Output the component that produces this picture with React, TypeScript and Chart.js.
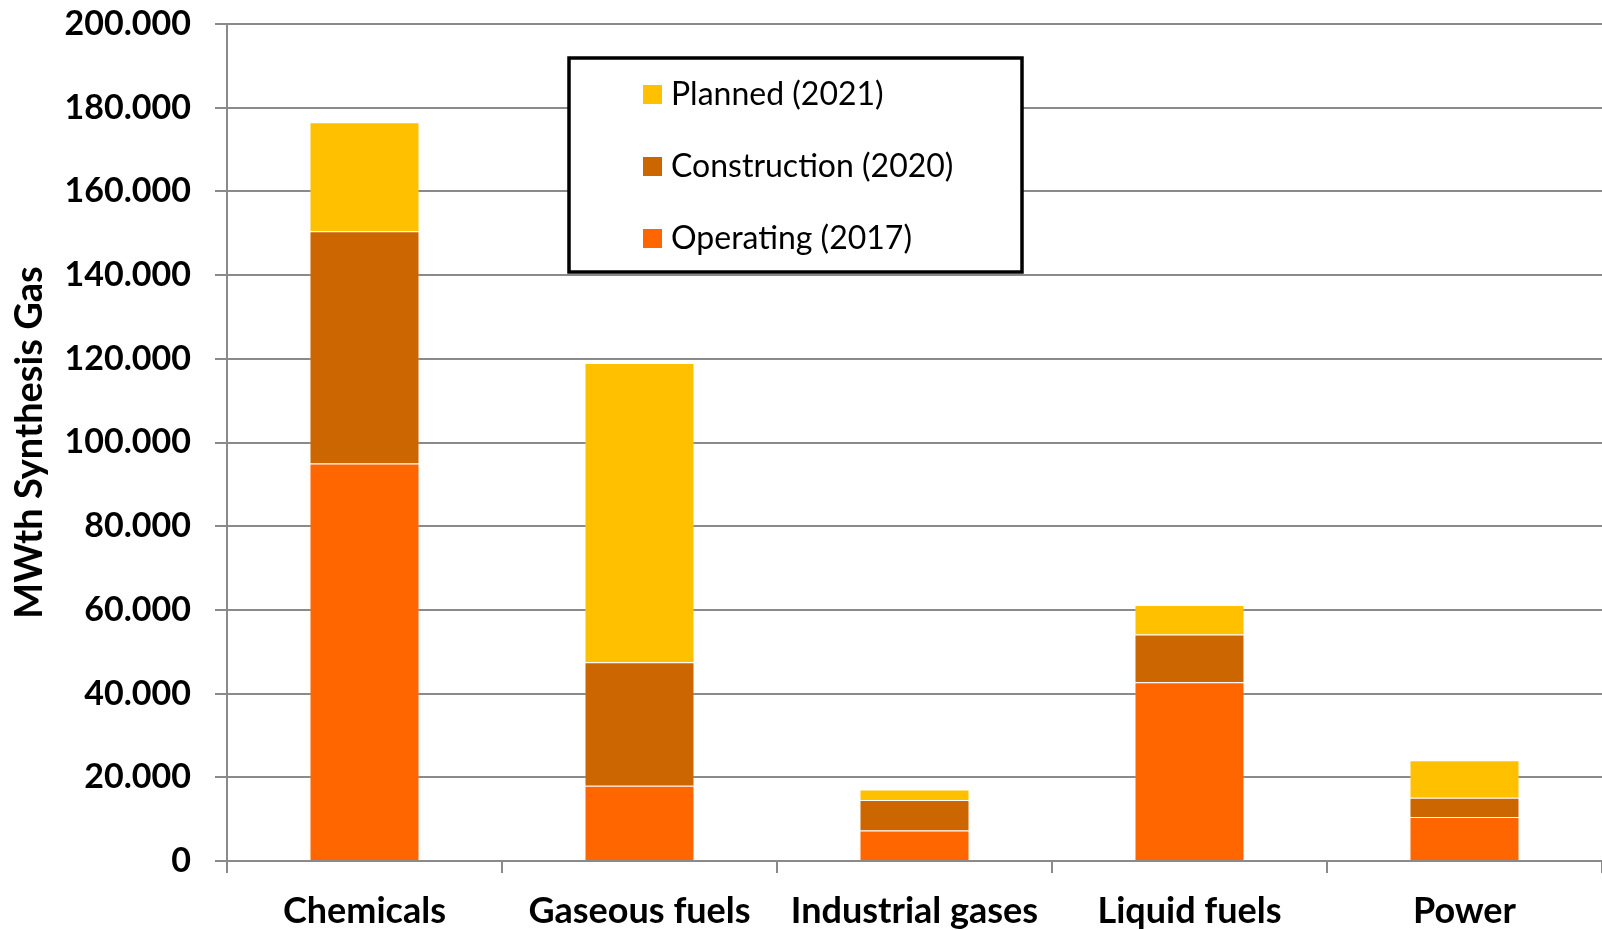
import React, { useEffect, useRef } from "react";
import { Chart, registerables } from "chart.js";

Chart.register(...registerables);

const categories = ["Chemicals", "Gaseous fuels", "Industrial gases", "Liquid fuels", "Power"];
const operating2017 = [95000, 18000, 7300, 42700, 10500];
const construction2020 = [55500, 29500, 7300, 11400, 4600];
const planned2021 = [26000, 71500, 2500, 7100, 9000];
const seriesLabels = ["Operating (2017)", "Construction (2020)", "Planned (2021)"];
const seriesColors = ["#FF6600", "#CC6600", "#FFC000"];
const yTitle = "MWth Synthesis Gas";

const FONT = "Lato, 'Open Sans', sans-serif";
const GRID = "#8a8a8a";

const fmt = (v: number) => String(Math.round(v)).replace(/\B(?=(\d{3})+(?!\d))/g, ".");

const boxLegend = {
  id: "boxLegend",
  afterDraw(chart: any) {
    const ctx = chart.ctx as CanvasRenderingContext2D;
    const x0 = 569, y0 = 58, w = 453, h = 214;
    ctx.save();
    ctx.fillStyle = "#ffffff";
    ctx.fillRect(x0, y0, w, h);
    ctx.lineWidth = 3.5;
    ctx.strokeStyle = "#000000";
    ctx.strokeRect(x0, y0, w, h);
    const ds = chart.data.datasets.slice().reverse();
    const rowY = [94, 166, 238];
    ctx.font = `32px ${FONT}`;
    ctx.textBaseline = "middle";
    ctx.textAlign = "left";
    ds.forEach((d: any, i: number) => {
      ctx.fillStyle = d.backgroundColor;
      ctx.fillRect(643, rowY[i] - 9, 19, 19);
      ctx.fillStyle = "#000000";
      ctx.fillText(d.label, 671, rowY[i] + 1);
    });
    ctx.restore();
  },
};

export default function App() {
  const ref = useRef<HTMLCanvasElement>(null);
  useEffect(() => {
    if (!ref.current) return;
    const values = [operating2017, construction2020, planned2021];
    const chart = new Chart(ref.current, {
      type: "bar",
      data: {
        labels: categories,
        datasets: values.map((v, i) => ({
          label: seriesLabels[i],
          data: v,
          backgroundColor: seriesColors[i],
          borderColor: "rgba(255,255,255,0.2)",
          borderWidth: 1,
          barPercentage: 0.4,
          categoryPercentage: 1,
        })),
      },
      options: {
        animation: false,
        responsive: true,
        maintainAspectRatio: false,
        layout: { padding: { top: 0, right: 0, bottom: 0, left: 0 } },
        plugins: { legend: { display: false }, tooltip: { enabled: false } },
        scales: {
          x: {
            stacked: true,
            grid: {
              offset: true,
              drawOnChartArea: false,
              drawTicks: true,
              tickLength: 12,
              color: GRID,
              lineWidth: 2,
            },
            border: { display: true, color: GRID, width: 2 },
            ticks: {
              color: "#000",
              padding: 17,
              maxRotation: 0,
              font: { family: FONT, size: 36, weight: "bold" },
            },
            afterFit: (s: any) => {
              s.height = 69;
            },
          },
          y: {
            stacked: true,
            min: 0,
            max: 200000,
            ticks: {
              stepSize: 20000,
              color: "#000",
              padding: 24,
              font: { family: FONT, size: 34, weight: "bold" },
              callback: (v: any) => fmt(Number(v)),
            },
            grid: { color: GRID, lineWidth: 2, tickLength: 12, drawTicks: true },
            border: { display: true, color: GRID, width: 2 },
            title: {
              display: true,
              text: yTitle,
              color: "#000",
              padding: { top: 7, bottom: 0 },
              font: { family: FONT, size: 38, weight: "bold" },
            },
            afterFit: (s: any) => {
              s.width = 227;
              s.paddingTop = 24;
              s.paddingBottom = 0;
            },
          },
        },
      },
      plugins: [boxLegend],
    });
    return () => chart.destroy();
  }, []);
  return (
    <div style={{ position: "fixed", left: 0, top: 0, width: 1602, height: 930, background: "#fff" }}>
      <canvas ref={ref} />
    </div>
  );
}
